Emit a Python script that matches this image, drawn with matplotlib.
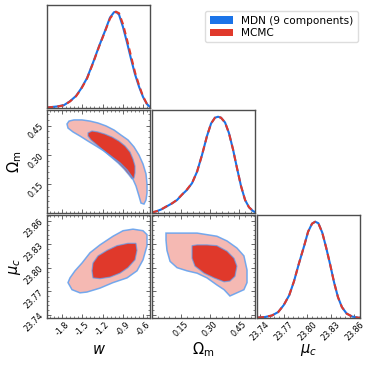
import numpy as np
import matplotlib
matplotlib.use("Agg")
import matplotlib.pyplot as plt
from matplotlib.ticker import FixedLocator, AutoMinorLocator, FormatStrFormatter
from matplotlib.patches import Patch

# ---------------- data ----------------
labels = [r"$w$", r"$\Omega_{\rm m}$", r"$\mu_c$"]
ranges = [(-2.02, -0.50), (0.0, 0.53), (23.736, 23.867)]
ticks = [[-1.8, -1.5, -1.2, -0.9, -0.6],
         [0.15, 0.30, 0.45],
         [23.74, 23.77, 23.80, 23.83, 23.86]]
tick_fmt = ["%.1f", "%.2f", "%.2f"]

# 1D marginals (normalised to peak = 1)
w_grid = [-2.020, -1.872, -1.769, -1.681, -1.592, -1.518, -1.430, -1.341, -1.253, -1.164,
          -1.090, -1.031, -1.002, -0.957, -0.898, -0.839, -0.780, -0.721, -0.661, -0.603,
          -0.544, -0.500]
w_mdn = [0.005, 0.016, 0.03, 0.07, 0.125, 0.20, 0.31, 0.47, 0.64, 0.80,
         0.94, 0.995, 1.0, 0.97, 0.84, 0.68, 0.51, 0.35, 0.22, 0.115, 0.04, 0.01]
w_mcmc = [0.005, 0.014, 0.028, 0.068, 0.122, 0.195, 0.305, 0.465, 0.635, 0.795,
          0.93, 0.985, 1.0, 0.985, 0.87, 0.71, 0.54, 0.37, 0.235, 0.12, 0.04, 0.008]

om_grid = [0.000, 0.026, 0.051, 0.077, 0.103, 0.129, 0.154, 0.180, 0.206, 0.232,
           0.257, 0.283, 0.304, 0.324, 0.340, 0.355, 0.376, 0.396, 0.417, 0.437,
           0.458, 0.479, 0.499, 0.520, 0.530]
om_mdn = [0.005, 0.02, 0.04, 0.07, 0.10, 0.135, 0.19, 0.24, 0.31, 0.43,
          0.60, 0.80, 0.93, 0.99, 1.0, 0.99, 0.94, 0.83, 0.66, 0.47,
          0.28, 0.135, 0.06, 0.02, 0.01]
om_mcmc = [0.005, 0.02, 0.042, 0.072, 0.10, 0.137, 0.19, 0.245, 0.31, 0.43,
           0.60, 0.80, 0.93, 0.99, 1.0, 0.99, 0.94, 0.83, 0.66, 0.47,
           0.28, 0.135, 0.06, 0.02, 0.01]

mu_grid = [23.737, 23.746, 23.755, 23.763, 23.770, 23.777, 23.783, 23.789, 23.796, 23.801,
           23.806, 23.810, 23.814, 23.819, 23.824, 23.829, 23.834, 23.839, 23.844, 23.850,
           23.857, 23.867]
mu_mdn = [0.005, 0.01, 0.026, 0.062, 0.134, 0.237, 0.38, 0.557, 0.75, 0.897,
          0.98, 1.0, 0.985, 0.887, 0.73, 0.557, 0.371, 0.216, 0.113, 0.046, 0.015, 0.0]
mu_mcmc = [0.005, 0.01, 0.026, 0.062, 0.134, 0.237, 0.38, 0.557, 0.75, 0.897,
           0.98, 1.0, 0.985, 0.887, 0.73, 0.557, 0.371, 0.216, 0.113, 0.046, 0.015, 0.0]

# 2D credible-region outlines (95% outer, 68% inner)
w_om_95_w = [-1.725, -1.695, -1.622, -1.503, -1.385, -1.267, -1.149, -1.031, -0.928, -0.825,
             -0.736, -0.662, -0.603, -0.559, -0.544, -0.544, -0.559, -0.589, -0.633, -0.662,
             -0.707, -0.766, -0.839, -0.943, -1.061, -1.179, -1.297, -1.415, -1.533, -1.636,
             -1.710]
w_om_95_om = [0.458, 0.473, 0.479, 0.479, 0.473, 0.463, 0.448, 0.427, 0.401, 0.376,
              0.340, 0.298, 0.252, 0.201, 0.149, 0.103, 0.067, 0.046, 0.051, 0.087,
              0.139, 0.185, 0.221, 0.257, 0.288, 0.319, 0.345, 0.370, 0.396, 0.417,
              0.437]
w_om_68_w = [-1.415, -1.356, -1.267, -1.164, -1.061, -0.957, -0.869, -0.795, -0.751, -0.721,
             -0.721, -0.736, -0.766, -0.810, -0.884, -0.972, -1.076, -1.179, -1.282, -1.371,
             -1.415]
w_om_68_om = [0.412, 0.422, 0.417, 0.406, 0.391, 0.370, 0.345, 0.314, 0.278, 0.242,
              0.206, 0.180, 0.175, 0.195, 0.226, 0.257, 0.288, 0.319, 0.350, 0.376,
              0.396]

w_mu_95_w = [-1.710, -1.651, -1.533, -1.430, -1.238, -1.046, -0.839, -0.692, -0.603, -0.544,
             -0.544, -0.603, -0.751, -0.898, -1.046, -1.238, -1.385, -1.503, -1.607, -1.681]
w_mu_95_mu = [23.781, 23.772, 23.768, 23.769, 23.774, 23.781, 23.787, 23.796, 23.810, 23.828,
              23.842, 23.847, 23.849, 23.847, 23.840, 23.829, 23.819, 23.806, 23.796, 23.787]
w_mu_68_w = [-1.356, -1.341, -1.267, -1.135, -0.987, -0.825, -0.707, -0.692, -0.721, -0.825,
             -0.943, -1.090, -1.238, -1.341]
w_mu_68_mu = [23.796, 23.806, 23.815, 23.822, 23.828, 23.831, 23.831, 23.822, 23.810, 23.800,
              23.793, 23.788, 23.786, 23.787]

om_mu_95_om = [0.072, 0.093, 0.180, 0.232, 0.283, 0.334, 0.386, 0.437, 0.473, 0.489,
               0.489, 0.473, 0.437, 0.401, 0.371, 0.334, 0.283, 0.232, 0.180, 0.129,
               0.093, 0.077, 0.072]
om_mu_95_mu = [23.844, 23.844, 23.844, 23.844, 23.842, 23.840, 23.834, 23.825, 23.815, 23.797,
               23.781, 23.772, 23.768, 23.764, 23.772, 23.778, 23.787, 23.793, 23.796, 23.800,
               23.808, 23.822, 23.835]
om_mu_68_om = [0.206, 0.232, 0.283, 0.334, 0.386, 0.422, 0.437, 0.427, 0.401, 0.371,
               0.319, 0.268, 0.221, 0.206, 0.206]
om_mu_68_mu = [23.828, 23.829, 23.829, 23.828, 23.821, 23.812, 23.802, 23.789, 23.783, 23.782,
               23.787, 23.793, 23.802, 23.812, 23.822]

series_names = ["MDN (9 components)", "MCMC"]

# ---------------- style ----------------
BLUE = "#1a73e8"
BLUE_EDGE = "#5d9ff0"
RED = "#e0392b"
RED_LIGHT = "#f5b9b3"
SPINE = "#4d4d4d"

W, H = 374, 366
fig = plt.figure(figsize=(W / 100, H / 100), dpi=100)

col_x = [47, 152, 257]
row_y = [5, 110, 215]
size = 103


def make_ax(r, c):
    x0 = col_x[c] / W
    y0 = 1 - (row_y[r] + size) / H
    return fig.add_axes([x0, y0, size / W, size / H])


def style(ax, xi, yi, show_x, show_y, is1d):
    for s in ax.spines.values():
        s.set_color(SPINE)
        s.set_linewidth(1.0)
    ax.set_xlim(ranges[xi])
    ax.xaxis.set_major_locator(FixedLocator(ticks[xi]))
    ax.xaxis.set_minor_locator(AutoMinorLocator(5))
    if is1d:
        ax.tick_params(axis="x", which="both", direction="in", top=False, bottom=True)
        ax.set_yticks([])
    else:
        ax.set_ylim(ranges[yi])
        ax.yaxis.set_major_locator(FixedLocator(ticks[yi]))
        ax.yaxis.set_minor_locator(AutoMinorLocator(5))
        ax.tick_params(axis="both", which="both", direction="in",
                       top=True, bottom=True, left=True, right=True)
        if show_y:
            ax.yaxis.set_major_formatter(FormatStrFormatter(tick_fmt[yi]))
            for t in ax.get_yticklabels():
                t.set_rotation(45)
                t.set_fontsize(5.8)
        else:
            ax.set_yticklabels([])
    ax.tick_params(which="major", length=2.6, width=0.6, color=SPINE, pad=1.5)
    ax.tick_params(which="minor", length=1.4, width=0.5, color=SPINE)
    if show_x:
        ax.xaxis.set_major_formatter(FormatStrFormatter(tick_fmt[xi]))
        for t in ax.get_xticklabels():
            t.set_rotation(45)
            t.set_fontsize(5.8)
    else:
        ax.set_xticklabels([])


def plot1d(ax, x, mdn, mcmc):
    ax.plot(x, mdn, color=BLUE, lw=1.5, solid_capstyle="round")
    ax.plot(x, mcmc, color=RED, lw=1.5, ls=(0, (3, 2)))
    ax.set_ylim(0, 1.07)


def plot2d(ax, ox, oy, ix, iy):
    ax.fill(ox, oy, facecolor=RED_LIGHT, edgecolor="none", zorder=2)
    ax.fill(ix, iy, facecolor=RED, edgecolor="none", zorder=3)
    ax.fill(ox, oy, facecolor="none", edgecolor=BLUE_EDGE, lw=1.1, alpha=0.85, zorder=4)
    ax.fill(ix, iy, facecolor="none", edgecolor=BLUE_EDGE, lw=0.9, alpha=0.7, zorder=4)


# diagonal
ax00 = make_ax(0, 0)
plot1d(ax00, w_grid, w_mdn, w_mcmc)
style(ax00, 0, None, False, False, True)

ax11 = make_ax(1, 1)
plot1d(ax11, om_grid, om_mdn, om_mcmc)
style(ax11, 1, None, False, False, True)

ax22 = make_ax(2, 2)
plot1d(ax22, mu_grid, mu_mdn, mu_mcmc)
style(ax22, 2, None, True, False, True)

# off-diagonal
ax10 = make_ax(1, 0)
plot2d(ax10, w_om_95_w, w_om_95_om, w_om_68_w, w_om_68_om)
style(ax10, 0, 1, False, True, False)

ax20 = make_ax(2, 0)
plot2d(ax20, w_mu_95_w, w_mu_95_mu, w_mu_68_w, w_mu_68_mu)
style(ax20, 0, 2, True, True, False)

ax21 = make_ax(2, 1)
plot2d(ax21, om_mu_95_om, om_mu_95_mu, om_mu_68_om, om_mu_68_mu)
style(ax21, 1, 2, True, False, False)

# axis labels
lab_y = 1 - 350 / H
for c in range(3):
    fig.text((col_x[c] + size / 2) / W, lab_y, labels[c], ha="center", va="center", fontsize=10.5)
for r, li in [(1, 1), (2, 2)]:
    fig.text(15 / W, 1 - (row_y[r] + size / 2) / H, labels[li], ha="center", va="center",
             rotation=90, fontsize=10.5)

# legend
handles = [Patch(facecolor=BLUE, edgecolor="none"), Patch(facecolor=RED, edgecolor="none")]
fig.legend(handles, series_names, loc="upper right", bbox_to_anchor=(363 / W, 1 - 6 / H),
           fontsize=7.6, handlelength=2.2, handleheight=0.75, borderpad=0.4,
           labelspacing=0.25, handletextpad=0.8, framealpha=1, edgecolor="#dddddd",
           fancybox=True)

fig.savefig("out.png", dpi=100)
